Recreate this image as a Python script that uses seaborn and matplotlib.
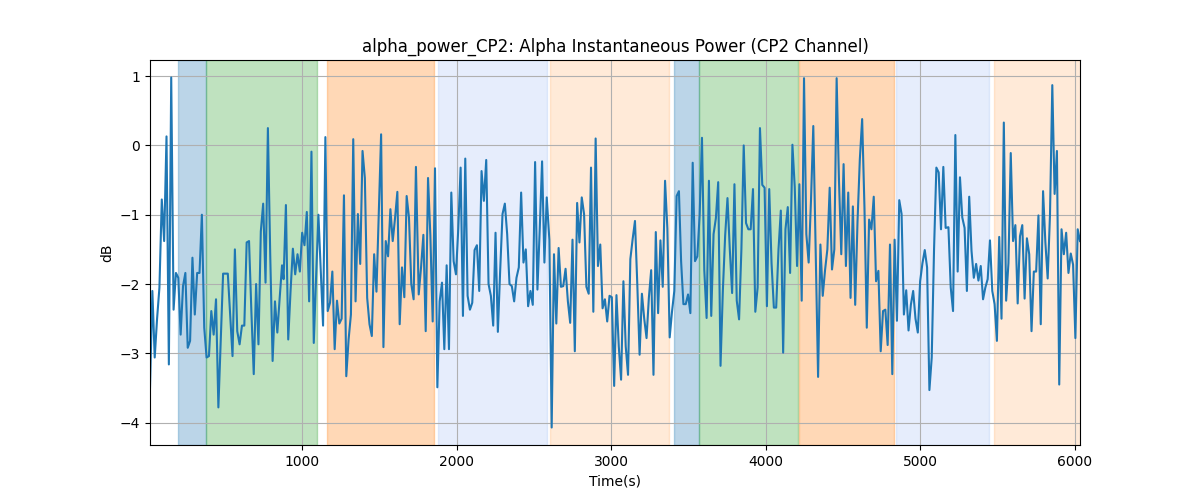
import numpy as np
import pandas as pd
import matplotlib
matplotlib.use("Agg")
import matplotlib.pyplot as plt
import seaborn as sns

# power values (dB), one list per stretch of the recording
seg_a = [-3.5, -2.1, -3.06, -2.5, -2.05, -0.78, -1.38, 0.13, -3.16, 0.98,
         -2.37, -1.84, -1.91, -2.73, -2.03, -1.84, -2.92, -2.82, -1.62, -2.44,
         -1.84, -1.84, -1.0, -2.63, -3.06, -3.04, -2.39, -2.73, -2.22, -3.78,
         -2.8, -1.85, -1.85, -1.85, -2.45, -3.04, -1.5, -2.68, -2.87, -2.6,
         -2.6, -1.4, -1.38, -2.4, -3.3, -2.0, -2.87, -1.24, -0.84, -1.98,
         0.25, -1.6, -3.11, -2.25, -2.7, -2.2, -1.73]
seg_b = [-1.93, -0.86, -2.8, -2.1, -1.49, -1.86, -1.57, -1.82, -1.26, -1.44,
         -0.96, -2.25, -0.09, -2.85, -1.9, -1.0, -1.8, -2.6, 0.12, -2.39,
         -2.27, -1.82, -2.94, -2.24, -2.57, -2.5, -0.72, -3.33, -2.8, -2.44,
         0.09, -2.25, -0.99, -1.71, -0.08, -0.47, -2.2, -2.58, -2.75, -1.57,
         -2.11, -1.0, 0.16, -2.91, -1.38, -1.6, -0.92, -1.38, -1.05, -0.67,
         -2.58, -1.76, -2.19, -0.73, -1.04, -2.0, -2.22, -0.31]
seg_c = [-2.15, -1.76, -1.29, -2.68, -0.47, -1.3, -2.54, -0.33, -3.49, -2.25,
         -1.98, -2.94, -1.73, -2.94, -0.68, -1.67, -1.86, -1.2, -0.32, -2.46,
         -0.19, -2.17, -2.37, -2.27, -1.51, -1.44, -2.1, -0.37, -0.8, -0.21,
         -2.0, -2.17, -2.6, -1.26, -2.69, -1.8, -0.99, -0.84, -1.28, -2.0,
         -2.03, -2.25, -1.91, -1.76, -0.68, -1.69, -1.5, -2.32, -2.1, -2.3,
         -0.24, -2.08, -1.2, -0.23, -1.69, -0.75]
seg_d = [-1.36, -4.07, -1.57, -2.57, -1.48, -2.04, -2.03, -1.78, -2.25, -2.56,
         -1.36, -2.97, -0.83, -1.4, -0.75, -0.99, -2.04, -2.14, -0.32, -2.4,
         0.1, -1.74, -1.43, -2.35, -2.22, -2.54, -2.17, -2.19, -3.47, -2.16,
         -2.9, -3.38, -1.96, -2.9, -3.31, -1.64, -1.35, -1.09, -2.0, -3.02,
         -2.14, -2.5, -2.78, -2.2, -1.8, -3.31, -1.25, -2.42, -1.37, -2.04,
         -0.51, -1.2, -2.77, -2.4, -2.1, -0.73, -0.66]
seg_e = [-1.67, -2.29, -2.29, -2.15, -2.42, -0.25, -1.67, -1.6, -1.0, 0.11,
         -1.8, -2.49, -0.51, -2.46, -1.28, -1.05, -0.53, -3.18, -2.1, -1.3,
         -0.76, -1.5, -2.13, -0.56, -2.24, -2.51, -1.5, 0.0, -1.12, -1.21,
         -1.21, -0.63, -2.4, -2.05, 0.25, -0.57, -0.61, -2.32, -0.63, -1.7,
         -2.34, -2.34, -1.5, -0.94, -2.99, -1.21, -0.89, -1.84, 0.01, -0.6,
         -1.74, -0.56, -2.24, 0.97, -1.28, -1.69, -0.8, 0.28]
seg_f = [-1.6, -3.34, -1.43, -2.17, -1.8, -1.5, -0.61, -1.79, -1.5, 0.97,
         -0.5, -1.57, -0.27, -1.74, -0.68, -2.2, -0.88, -2.3, -1.1, -0.2,
         0.38, -0.9, -2.63, -1.07, -1.21, -0.74, -1.96, -1.81, -2.97, -2.39,
         -2.37, -2.88, -1.43, -3.3, -1.36, -2.53, -0.79, -0.99, -2.44, -2.09,
         -2.67, -2.3, -2.1, -2.5, -2.7, -1.96, -1.7, -1.51, -1.76, -3.53,
         -3.06, -1.5, -0.32, -0.39, -1.21, -0.31, -1.19]
seg_g = [-1.18, -2.05, -2.39, 0.15, -1.82, -0.46, -1.04, -1.19, -2.1, -0.74,
         -1.52, -1.91, -1.71, -1.95, -1.74, -2.22, -2.05, -1.93, -1.37, -2.1,
         -2.29, -2.82, -1.32, -2.5, 0.33, -2.24, -1.7, -0.11, -1.38, -1.15,
         -2.28, -1.31, -1.15, -2.21, -1.34, -1.57, -2.68, -1.82, -1.82, -1.01,
         -2.58, -0.66, -1.4, -1.92, -1.0, 0.87, -0.7, -0.08, -3.45, -1.21,
         -1.57, -1.26, -1.84, -1.56, -1.72, -2.78, -1.21, -1.38]

# time span (s) covered by each stretch
seg_times = [(17, 871), (881, 1737), (1755, 2583), (2600, 3438),
             (3452, 4307), (4323, 5163), (5181, 6032)]

# shaded intervals: (start, end, colour, alpha)
span_start = [198, 379, 1161, 1880, 2603, 3406, 3568, 4215, 4842, 5476]
span_end = [379, 1095, 1856, 2583, 3374, 3568, 4210, 4831, 5443, 6040]
span_color = ["tab:blue", "tab:green", "tab:orange", "cornflowerblue", "tab:orange",
              "tab:blue", "tab:green", "tab:orange", "cornflowerblue", "tab:orange"]
span_alpha = [0.3, 0.3, 0.3, 0.16, 0.16, 0.3, 0.3, 0.3, 0.16, 0.16]

segs = [seg_a, seg_b, seg_c, seg_d, seg_e, seg_f, seg_g]
t = np.concatenate([np.linspace(a, b, len(s)) for (a, b), s in zip(seg_times, segs)])
v = np.concatenate(segs)
df = pd.DataFrame({"Time(s)": t, "dB": v})

fig, ax = plt.subplots(figsize=(12, 5), dpi=100)
for s, e, c, a in zip(span_start, span_end, span_color, span_alpha):
    ax.axvspan(s, e, color=c, alpha=a)
sns.lineplot(data=df, x="Time(s)", y="dB", ax=ax, color="tab:blue", linewidth=1.5)
ax.set_xlim(t[0], t[-1])
ax.grid(True)
ax.set_title("alpha_power_CP2: Alpha Instantaneous Power (CP2 Channel)")
ax.set_xlabel("Time(s)")
ax.set_ylabel("dB")
fig.savefig("out.png")
